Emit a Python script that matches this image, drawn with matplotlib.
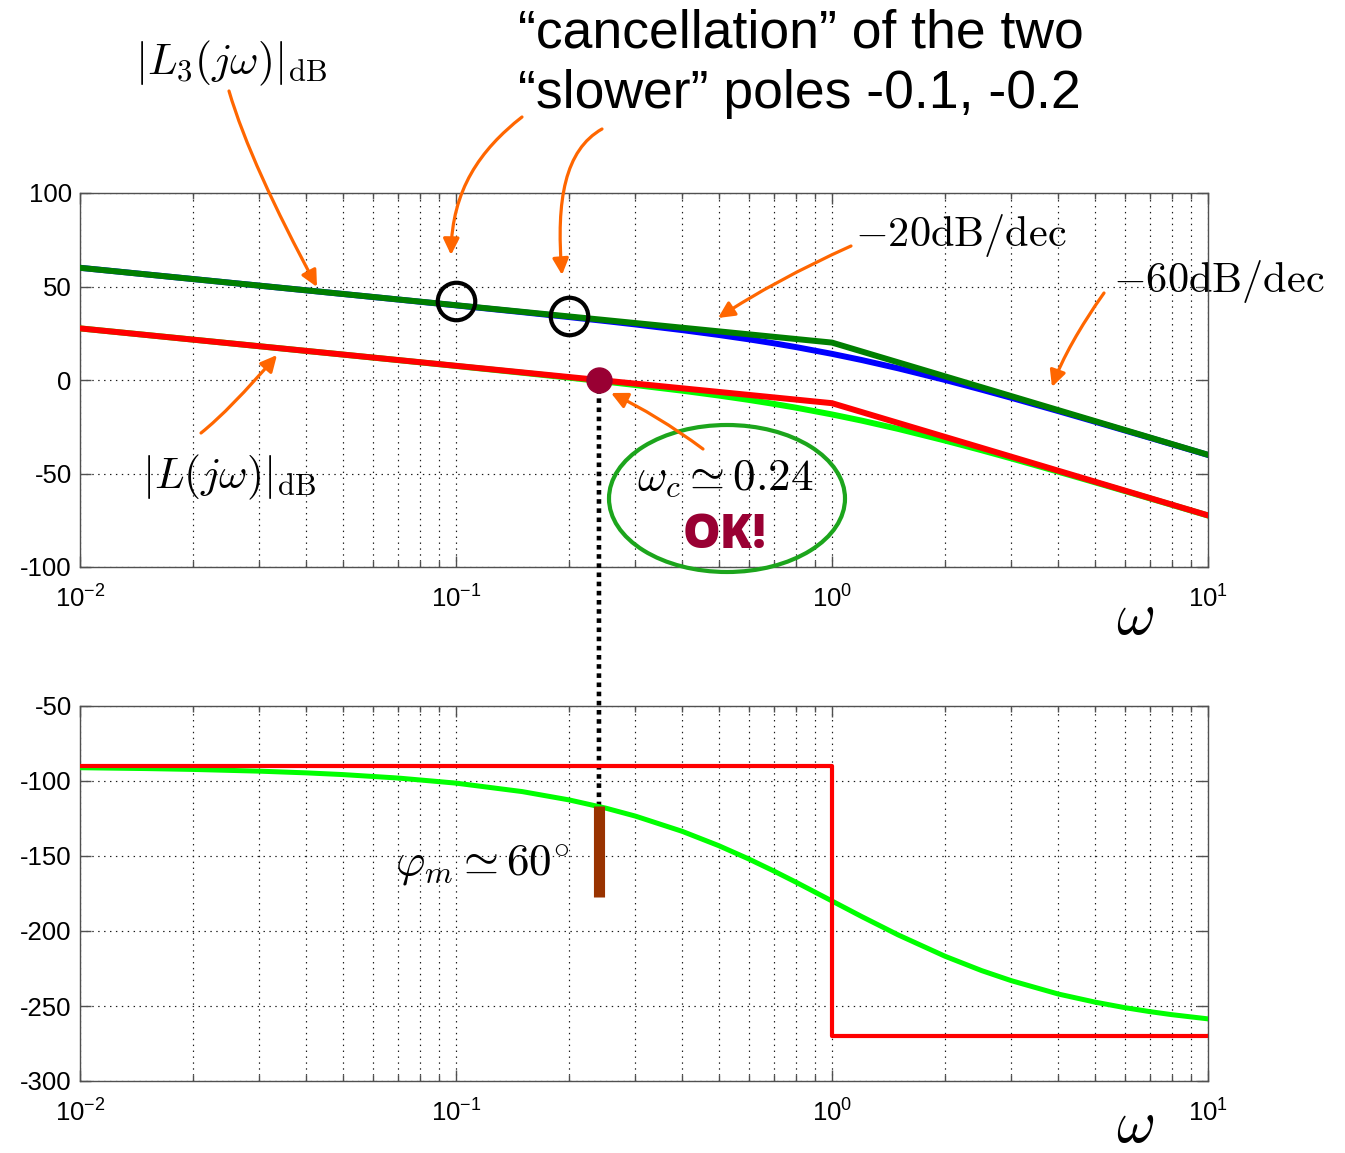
import numpy as np
import matplotlib
matplotlib.use("Agg")
import matplotlib.pyplot as plt
from matplotlib.patches import Ellipse, FancyArrowPatch, ConnectionPatch
from matplotlib.path import Path
from matplotlib.ticker import FixedLocator, LogLocator, FuncFormatter, NullFormatter

plt.rcParams["font.family"] = ["Liberation Sans", "DejaVu Sans"]
plt.rcParams["mathtext.fontset"] = "cm"
plt.rcParams["axes.unicode_minus"] = False

# ---- frequency response data -------------------------------------------
omega = [0.01, 0.015, 0.02, 0.03, 0.04, 0.05, 0.07, 0.1, 0.15, 0.2, 0.25,
         0.3, 0.4, 0.5, 0.6, 0.7, 0.8, 1.0, 1.2, 1.5, 2.0, 2.5, 3.0, 4.0,
         5.0, 6.0, 7.0, 8.0, 10.0]
L3_db = [60.00, 56.48, 53.98, 50.45, 47.94, 46.00, 43.06, 39.91, 36.29,
         33.64, 31.51, 29.71, 26.67, 24.08, 21.77, 19.63, 17.64, 13.98,
         10.67, 6.24, 0.00, -5.17, -9.54, -16.65, -22.28, -26.93, -30.88,
         -34.32, -40.09]
L_db = [27.60, 24.08, 21.58, 18.05, 15.54, 13.60, 10.66, 7.51, 3.89, 1.24,
        -0.89, -2.69, -5.73, -8.32, -10.63, -12.77, -14.76, -18.42, -21.73,
        -26.16, -32.40, -37.57, -41.94, -49.05, -54.68, -59.33, -63.28,
        -66.72, -72.49]
L_phase = [-91.15, -91.72, -92.29, -93.44, -94.58, -95.72, -98.01, -101.42,
           -107.06, -112.62, -118.07, -123.40, -133.60, -143.13, -151.93,
           -159.99, -167.32, -180.00, -190.39, -202.62, -216.87, -226.40,
           -233.13, -242.03, -247.38, -251.08, -253.74, -255.75, -258.58]

# asymptotic (straight-line) diagrams
asym_omega = [0.01, 1.0, 10.0]
L3_asym_db = [60.0, 20.0, -40.0]
L_asym_db = [27.6, -12.4, -72.4]
phase_asym_omega = [0.01, 1.0, 1.0, 10.0]
phase_asym = [-90.0, -90.0, -270.0, -270.0]

# cancelled poles and crossover
pole_omega = [0.1, 0.2]
pole_mark_db = [42.0, 34.0]
omega_c = 0.24
phase_at_wc = -117.0
phase_margin = 60.0

mag_ticks = [-100, -50, 0, 50, 100]
phase_ticks = [-300, -250, -200, -150, -100, -50]
decades = [1e-2, 1e-1, 1e0, 1e1]

# ---- figure ------------------------------------------------------------
W, H = 1345, 1153
fig = plt.figure(figsize=(W / 100, H / 100), dpi=100, facecolor="white")


def fx(x):
    return x / W


def fy(y):
    return 1 - y / H


ax1 = fig.add_axes([fx(80), fy(567), (1208 - 80) / W, (567 - 193) / H])
ax2 = fig.add_axes([fx(80), fy(1081), (1208 - 80) / W, (1081 - 706) / H])
ax2.set_facecolor("none")

GRID = dict(color="#1a1a1a", lw=0.85, ls=(0, (1.2, 3.8)))


def style(ax, ticks):
    ax.set_xscale("log")
    ax.set_xlim(decades[0], decades[-1])
    ax.set_ylim(ticks[0], ticks[-1])
    ax.set_yticks(ticks)
    ax.set_yticklabels([str(t) for t in ticks])
    ax.xaxis.set_major_locator(FixedLocator(decades))
    ax.xaxis.set_minor_locator(LogLocator(base=10, subs=np.arange(2, 10)))
    ax.xaxis.set_major_formatter(
        FuncFormatter(lambda v, p: r"$\mathregular{10^{%d}}$" % round(np.log10(v))))
    ax.xaxis.set_minor_formatter(NullFormatter())
    ax.tick_params(which="both", direction="in", top=True, right=True,
                   color="#505050", labelcolor="black", labelsize=18.5)
    ax.tick_params(which="major", length=8, width=1)
    ax.tick_params(which="minor", length=4.5, width=1)
    ax.tick_params(axis="x", pad=13)
    ax.tick_params(axis="y", pad=6)
    for s in ax.spines.values():
        s.set_color("#505050")
        s.set_linewidth(1)
    ax.grid(True, which="major", axis="both", **GRID)
    ax.grid(True, which="minor", axis="x", **GRID)


style(ax1, mag_ticks)
style(ax2, phase_ticks)

# magnitude
ax1.plot(omega, L3_db, color="#0000ff", lw=4.3, zorder=3)
ax1.plot(asym_omega, L3_asym_db, color="#007f00", lw=4.3, zorder=3)
ax1.plot(omega, L_db, color="#00ff00", lw=4.3, zorder=3)
ax1.plot(asym_omega, L_asym_db, color="#ff0000", lw=4.3, zorder=3)

# phase
ax2.plot(omega, L_phase, color="#00ff00", lw=3.6, zorder=3)
ax2.plot(phase_asym_omega, phase_asym, color="#ff0000", lw=3.0, zorder=3)

# circles on the cancelled poles
ax1.plot(pole_omega, pole_mark_db, "o", ms=27, mfc="none", mec="black",
         mew=3, zorder=6)

# crossover frequency and phase margin
ax1.add_artist(ConnectionPatch(xyA=(omega_c, 0), coordsA=ax1.transData,
                               xyB=(omega_c, phase_at_wc), coordsB=ax2.transData,
                               color="black", lw=3.3, ls=(0, (1, 1)), zorder=4,
                               capstyle="butt", clip_on=False))
ax1.plot([omega_c], [0], "o", ms=18, color="#990033", zorder=7, clip_on=False)
ax2.plot([omega_c, omega_c], [phase_at_wc, phase_at_wc - phase_margin],
         color="#993300", lw=8, solid_capstyle="butt", zorder=5)

# ---- annotations -------------------------------------------------------
MATH = dict(fontsize=31.5, color="black", va="baseline")

fig.text(fx(518), fy(48), "\u201ccancellation\u201d of the two", fontsize=38.5,
         ha="left", va="baseline")
fig.text(fx(518), fy(108), "\u201cslower\u201d poles -0.1, -0.2", fontsize=38.5,
         ha="left", va="baseline")

fig.text(fx(135), fy(74), r"$|L_3(j\omega)|_{\mathrm{dB}}$", ha="left", **MATH)
fig.text(fx(142), fy(488), r"$|L(j\omega)|_{\mathrm{dB}}$", ha="left", **MATH)
fig.text(fx(855), fy(246), r"$-20\mathrm{dB}/\mathrm{dec}$", ha="left",
         **dict(MATH, fontsize=30.5))
ax1.text(fx(1113), fy(292), r"$-60\mathrm{dB}/\mathrm{dec}$", ha="left",
         transform=fig.transFigure, clip_on=False, zorder=2,
         **dict(MATH, fontsize=30.5))
fig.text(fx(637), fy(489), r"$\omega_c \simeq 0.24$", ha="left",
         **dict(MATH, fontsize=32.5))
fig.text(fx(395), fy(875), r"$\varphi_m \simeq 60^{\circ}$", ha="left",
         **dict(MATH, fontsize=32.5))
fig.text(fx(725), fy(548), "OK!", fontsize=34, fontweight="heavy",
         family="Open Sans", color="#990033", ha="center", va="baseline")

fig.text(fx(1135), fy(634), r"$\omega$", fontsize=43, ha="center", va="baseline")
fig.text(fx(1135), fy(1142), r"$\omega$", fontsize=43, ha="center", va="baseline")

fig.add_artist(Ellipse((fx(727), fy(498.5)), 236 / W, 147 / H,
                       transform=fig.transFigure, fill=False,
                       ec="#1ca51c", lw=3, zorder=4))


def curved_arrow(p0, p1, p2, p3):
    verts = [(fx(x), fy(y)) for x, y in (p0, p1, p2, p3)]
    path = Path(verts, [Path.MOVETO, Path.CURVE4, Path.CURVE4, Path.CURVE4])
    fig.add_artist(FancyArrowPatch(
        path=path, arrowstyle="-|>,head_length=0.65,head_width=0.32",
        mutation_scale=15, color="#ff6600", lw=2.3,
        transform=fig.transFigure, zorder=5))


curved_arrow((229, 91), (244, 142), (274, 207), (317, 287))
curved_arrow((522, 117), (480, 150), (452, 190), (451, 255))
curved_arrow((602, 129), (565, 150), (556, 200), (562, 275))
curved_arrow((851, 246), (800, 269), (756, 293), (718, 318))
curved_arrow((1104, 293), (1080, 327), (1062, 359), (1052, 387))
curved_arrow((201, 433), (221, 417), (246, 391), (277, 355))
curved_arrow((703, 449), (672, 426), (642, 408), (611, 393))

fig.savefig("out.png", dpi=100, facecolor="white")
